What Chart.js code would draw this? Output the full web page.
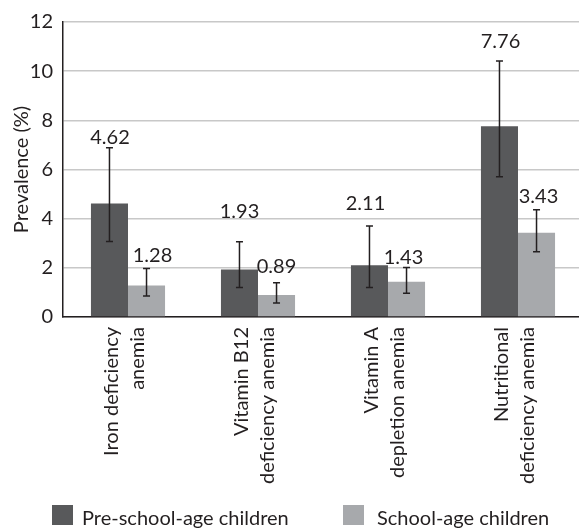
<!DOCTYPE html>
<html><head><meta charset="utf-8">
<style>
html,body{margin:0;padding:0;background:#fff;overflow:hidden;width:579px;height:528px}
#wrap{width:584px;height:528px}
</style>
<script src="https://cdn.jsdelivr.net/npm/chart.js@4/dist/chart.umd.min.js"></script>
</head><body><div id="wrap"><canvas id="c" width="584" height="528"></canvas></div>
<script>
// Anemia prevalence by type, with 95% confidence intervals
const categories = [["Iron deficiency","anemia"],["Vitamin B12","deficiency anemia"],["Vitamin A","depletion anemia"],["Nutritional","deficiency anemia"]];
const seriesNames = ["Pre-school-age children","School-age children"];
const preschool = [4.62, 1.93, 2.11, 7.76];
const preschoolLow = [3.07, 1.20, 1.20, 5.71];
const preschoolHigh = [6.88, 3.06, 3.70, 10.41];
const school = [1.28, 0.89, 1.43, 3.43];
const schoolLow = [0.85, 0.57, 0.97, 2.65];
const schoolHigh = [1.97, 1.39, 2.01, 4.36];
const yTicks = [0, 2, 4, 6, 8, 10, 12];

const FONT = 'Lato, "Open Sans", sans-serif';
const INK = '#231f20';
const colors = ['#58595b', '#a7a9ac'];

// label nudges (px) relative to the top of each error bar: [dx, dy]
const labelNudge = [
  [[0.5, -10], [0, -30], [-4, -22], [1, -20]],
  [[6, -13], [0, -16], [-3, -10.5], [2, -13]]
];
const lows = [preschoolLow, schoolLow];
const highs = [preschoolHigh, schoolHigh];

const errorBars = {
  id: 'errorBars',
  afterDatasetsDraw(chart) {
    const ctx = chart.ctx, y = chart.scales.y;
    ctx.save();
    ctx.strokeStyle = INK;
    ctx.lineWidth = 1.5;
    chart.data.datasets.forEach((ds, di) => {
      const meta = chart.getDatasetMeta(di);
      meta.data.forEach((bar, i) => {
        const x = bar.x;
        const yl = y.getPixelForValue(lows[di][i]);
        const yh = y.getPixelForValue(highs[di][i]);
        ctx.beginPath();
        ctx.moveTo(x, yl); ctx.lineTo(x, yh);
        ctx.moveTo(x - 3.5, yl); ctx.lineTo(x + 3.5, yl);
        ctx.moveTo(x - 3.5, yh); ctx.lineTo(x + 3.5, yh);
        ctx.stroke();
        // value label
        const [dx, dy] = labelNudge[di][i];
        ctx.fillStyle = INK;
        ctx.font = '20px ' + FONT;
        ctx.textAlign = 'center';
        ctx.textBaseline = 'middle';
        ctx.fillText(ds.data[i].toFixed(2), x + dx, yh + dy);
      });
    });
    ctx.restore();
  }
};

const bottomLegend = {
  id: 'bottomLegend',
  afterDraw(chart) {
    const ctx = chart.ctx;
    const starts = [52, 343];
    const textGap = [9, 13];
    ctx.save();
    ctx.font = '20px ' + FONT;
    ctx.textBaseline = 'alphabetic';
    ctx.textAlign = 'left';
    chart.data.datasets.forEach((ds, di) => {
      const x0 = starts[di];
      ctx.fillStyle = ds.backgroundColor;
      ctx.fillRect(x0, 505, 21, 20);
      ctx.fillStyle = INK;
      ctx.fillText(ds.label, x0 + 21 + textGap[di], 525);
    });
    ctx.restore();
  }
};

new Chart(document.getElementById('c'), {
  type: 'bar',
  data: {
    labels: categories,
    datasets: [
      { label: seriesNames[0], data: preschool, backgroundColor: colors[0] },
      { label: seriesNames[1], data: school, backgroundColor: colors[1] }
    ]
  },
  options: {
    responsive: false,
    animation: false,
    devicePixelRatio: 1,
    layout: { padding: { top: 20, right: 1, left: 0, bottom: 0 } },
    datasets: { bar: { categoryPercentage: 0.57, barPercentage: 1.0 } },
    plugins: { legend: { display: false }, tooltip: { enabled: false } },
    scales: {
      x: {
        grid: { display: false, drawTicks: false },
        border: { display: true, color: INK, width: 1.5 },
        ticks: {
          color: INK, font: { family: FONT, size: 20, lineHeight: 1.3 },
          maxRotation: 90, minRotation: 90, padding: 10, autoSkip: false,
          labelOffset: -16
        },
        afterFit(s) { s.height = 211; }
      },
      y: {
        min: 0, max: 12,
        afterBuildTicks(s) { s.ticks = yTicks.map(v => ({ value: v })); },
        grid: { color: '#c8c8c8', lineWidth: 1.5, drawTicks: false },
        border: { display: true, color: INK, width: 1.5 },
        ticks: { color: INK, font: { family: FONT, size: 20 }, padding: 10 },
        title: { display: true, text: 'Prevalence (%)', color: INK, font: { family: FONT, size: 20 }, padding: { top: 10, bottom: 0 } },
        afterFit(s) { s.width = 63; }
      }
    }
  },
  plugins: [errorBars, bottomLegend]
});
</script>
</body></html>
